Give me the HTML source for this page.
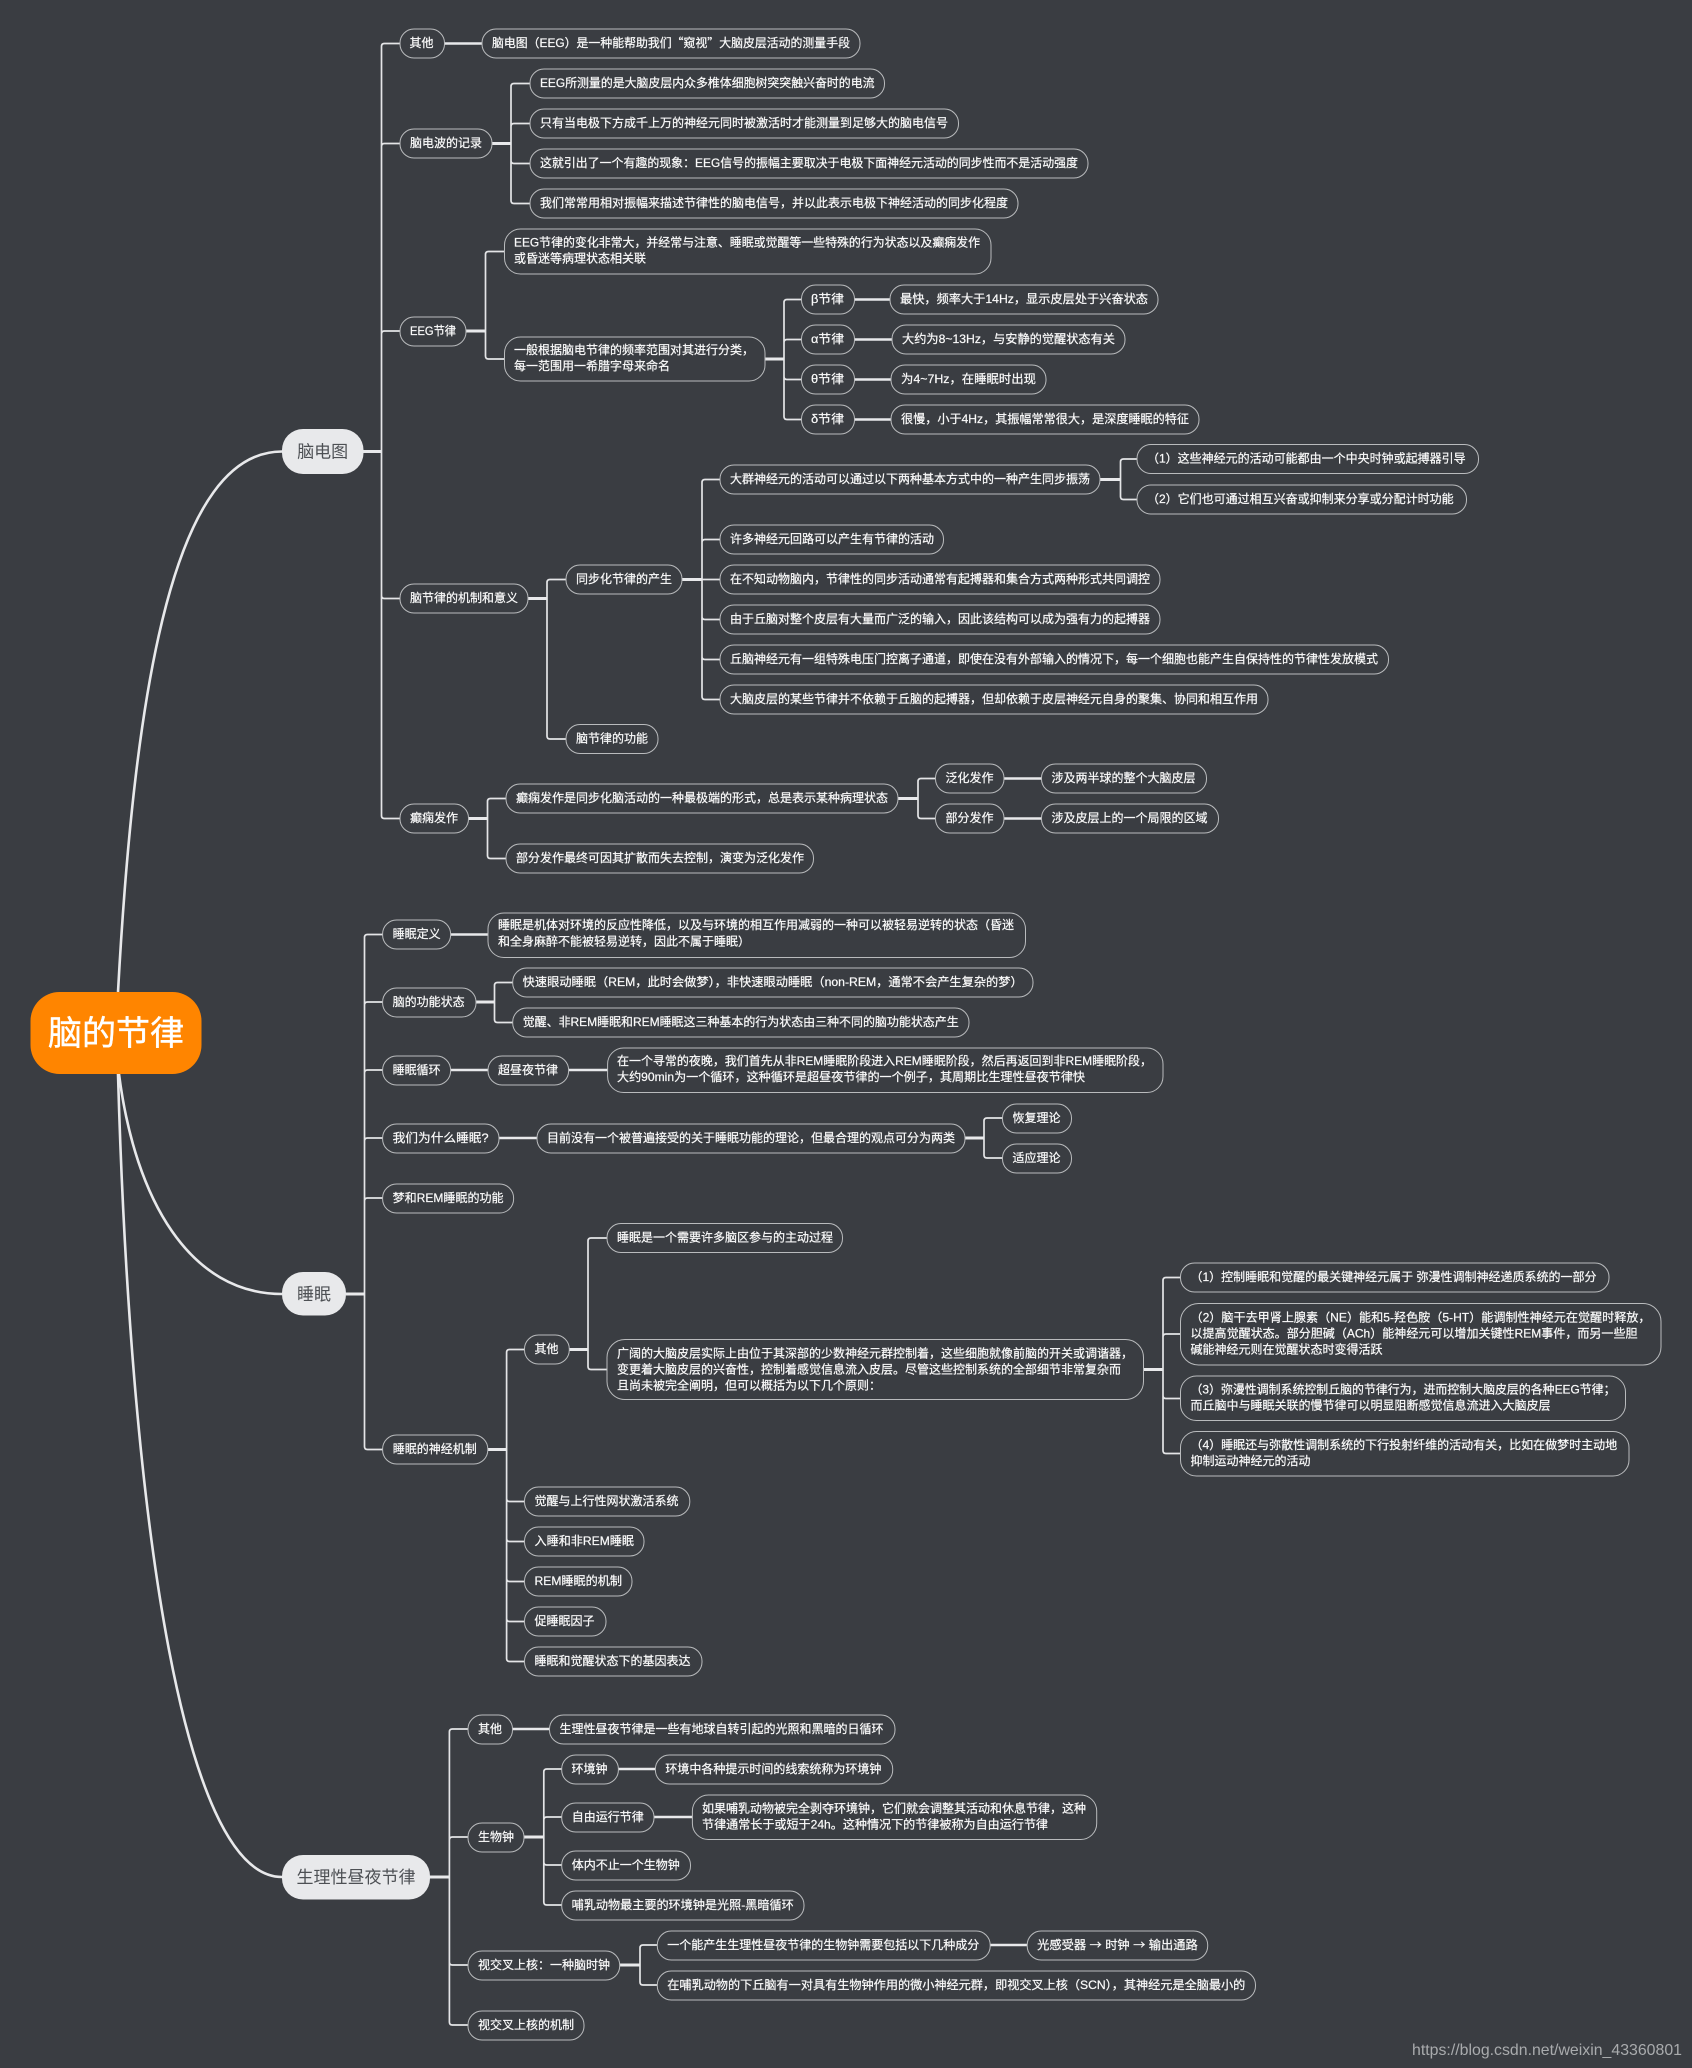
<!DOCTYPE html>
<html lang="zh"><head><meta charset="utf-8"><title>脑的节律</title>
<style>
html,body{margin:0;padding:0;background:#3a3d42}
svg{display:block}
text{font-family:"Liberation Sans","Noto Sans CJK SC",sans-serif;font-size:12px;fill:#fafafa}
.n text{stroke:#fafafa;stroke-width:.22}
.k{font-family:"Noto Sans CJK SC",sans-serif}
.n rect,rect.n{fill:#3a3d42;stroke:#b9bbbd;stroke-width:1}
.m{fill:#e8e9eb}
.mt{font-size:17px;fill:#4d5054;text-anchor:middle}
.c{fill:none;stroke:#e4e5e7;stroke-width:1.7}
.p{fill:none;stroke:#e8e9eb;stroke-width:3}
.r{fill:none;stroke:#e8e9eb;stroke-width:2.6}
</style></head><body>
<svg xmlns="http://www.w3.org/2000/svg" width="1692" height="2068" viewBox="0 0 1692 2068">
<rect width="1692" height="2068" fill="#3a3d42"/>

<path class="r" d="M118 992C135 680 175 451.5 282 451.5"/>
<path class="r" d="M119 1074C135 1200 190 1294 282 1294"/>
<path class="r" d="M118 1074C130 1500 180 1877 282 1877"/>

<path class="c" d="M381.5 451.5V46.5Q381.5 43.5 384.5 43.5H400M381.5 451.5V146.5Q381.5 143.5 384.5 143.5H400M381.5 451.5V334Q381.5 331 384.5 331H400M381.5 451.5V595.5Q381.5 598.5 384.5 598.5H400M381.5 451.5V815.5Q381.5 818.5 384.5 818.5H400"/>
<path class="c" d="M511 143.5V86.5Q511 83.5 514 83.5H530M511 143.5V126.5Q511 123.5 514 123.5H530M511 143.5V160.5Q511 163.5 514 163.5H530M511 143.5V200.5Q511 203.5 514 203.5H530"/>
<path class="c" d="M485.5 331V254.5Q485.5 251.5 488.5 251.5H504.5M485.5 331V356Q485.5 359 488.5 359H504.5"/>
<path class="c" d="M784 359V302.5Q784 299.5 787 299.5H801.5M784 359V342.5Q784 339.5 787 339.5H801.5M784 359V376.5Q784 379.5 787 379.5H801.5M784 359V416.5Q784 419.5 787 419.5H801.5"/>
<path class="c" d="M547 598.5V582.5Q547 579.5 550 579.5H566M547 598.5V736Q547 739 550 739H566"/>
<path class="c" d="M702 579.5V482.5Q702 479.5 705 479.5H720M702 579.5V542.5Q702 539.5 705 539.5H720M702 579.5H720M702 579.5V616.5Q702 619.5 705 619.5H720M702 579.5V656.5Q702 659.5 705 659.5H720M702 579.5V696.5Q702 699.5 705 699.5H720"/>
<path class="c" d="M1120.5 479.5V462Q1120.5 459 1123.5 459H1137M1120.5 479.5V496.5Q1120.5 499.5 1123.5 499.5H1137"/>
<path class="c" d="M487.5 818.5V801.5Q487.5 798.5 490.5 798.5H506M487.5 818.5V855.5Q487.5 858.5 490.5 858.5H506"/>
<path class="c" d="M918 798.5V781.5Q918 778.5 921 778.5H935.5M918 798.5V815.5Q918 818.5 921 818.5H935.5"/>
<path class="c" d="M364.5 1294V937.5Q364.5 934.5 367.5 934.5H382.6M364.5 1294V1005Q364.5 1002 367.5 1002H382.6M364.5 1294V1073Q364.5 1070 367.5 1070H382.6M364.5 1294V1141Q364.5 1138 367.5 1138H382.6M364.5 1294V1201Q364.5 1198 367.5 1198H382.6M364.5 1294V1446.5Q364.5 1449.5 367.5 1449.5H382.6"/>
<path class="c" d="M494.5 1002V985.5Q494.5 982.5 497.5 982.5H512.7M494.5 1002V1019.5Q494.5 1022.5 497.5 1022.5H512.7"/>
<path class="c" d="M984 1138V1121Q984 1118 987 1118H1002.5M984 1138V1155Q984 1158 987 1158H1002.5"/>
<path class="c" d="M506.6 1449.5V1352.5Q506.6 1349.5 509.6 1349.5H524.5M506.6 1449.5V1498.5Q506.6 1501.5 509.6 1501.5H524.5M506.6 1449.5V1538.5Q506.6 1541.5 509.6 1541.5H524.5M506.6 1449.5V1578.5Q506.6 1581.5 509.6 1581.5H524.5M506.6 1449.5V1618.5Q506.6 1621.5 509.6 1621.5H524.5M506.6 1449.5V1658.5Q506.6 1661.5 509.6 1661.5H524.5"/>
<path class="c" d="M588 1349.5V1241Q588 1238 591 1238H607M588 1349.5V1366.5Q588 1369.5 591 1369.5H607"/>
<path class="c" d="M1163 1369.5V1280.5Q1163 1277.5 1166 1277.5H1180.5M1163 1369.5V1337Q1163 1334 1166 1334H1180.5M1163 1369.5V1395.5Q1163 1398.5 1166 1398.5H1180.5M1163 1369.5V1450.5Q1163 1453.5 1166 1453.5H1180.5"/>
<path class="c" d="M449.4 1877V1732Q449.4 1729 452.4 1729H468M449.4 1877V1840Q449.4 1837 452.4 1837H468M449.4 1877V1962Q449.4 1965 452.4 1965H468M449.4 1877V2022Q449.4 2025 452.4 2025H468"/>
<path class="c" d="M543.8 1837V1772Q543.8 1769 546.8 1769H561.7M543.8 1837V1820Q543.8 1817 546.8 1817H561.7M543.8 1837V1862Q543.8 1865 546.8 1865H561.7M543.8 1837V1902Q543.8 1905 546.8 1905H561.7"/>
<path class="c" d="M640 1965V1948Q640 1945 643 1945H657.3M640 1965V1982Q640 1985 643 1985H657.3"/>

<path class="p" d="M363 451.5H381.5M492 143.5H511M466 331H485.5M765 359H784M528 598.5H547M682 579.5H702M1100 479.5H1120.5M468.5 818.5H487.5M898 798.5H918M346 1294H364.5M476 1002H494.5M965 1138H984M487.8 1449.5H506.6M569.3 1349.5H588M1143.5 1369.5H1163M430 1877H449.4M524 1837H543.8M619.7 1965H640"/>
<path class="p" style="stroke-width:2.4" d="M444.5 43.5H482M854.5 299.5H890M854.5 339.5H892M854.5 379.5H891M854.5 419.5H891M1004 778.5H1041.5M1004 818.5H1041.5M450.7 934.5H488M450.7 1070H488M568.6 1070H607.6M499 1138H537M512.5 1729H549.5M618.4 1769H655.4M654 1817H692.4M990.2 1945H1027.2"/>

<rect x="30.5" y="992" width="171" height="82" rx="29" fill="#ff8500"/>
<text x="116" y="1045" text-anchor="middle" style="font-size:34px;fill:#fff;stroke:#fff;stroke-width:.4">脑的节律</text>
<rect class="m" x="282" y="429" width="81.5" height="45" rx="21"/><text class="mt" x="322.7" y="457.5">脑电图</text>
<rect class="m" x="282" y="1272" width="64" height="43.5" rx="21"/><text class="mt" x="314" y="1300">睡眠</text>
<rect class="m" x="282" y="1855" width="148" height="44.5" rx="21"/><text class="mt" x="356" y="1883">生理性昼夜节律</text>

<g class="n">
<rect x="400" y="29" width="44.5" height="29" rx="14"/><text x="409.5" y="47">其他</text>
<rect x="482" y="29" width="378" height="29" rx="14"/><text x="492" y="47" textLength="358" lengthAdjust="spacingAndGlyphs">脑电图（EEG）是一种能帮助我们<tspan class="k">“窥视”</tspan>大脑皮层活动的测量手段</text>
<rect x="400" y="129" width="92" height="29" rx="14"/><text x="410" y="147">脑电波的记录</text>
<rect x="530" y="69" width="354.5" height="29" rx="14"/><text x="540" y="87" textLength="334.5" lengthAdjust="spacingAndGlyphs">EEG所测量的是大脑皮层内众多椎体细胞树突突触兴奋时的电流</text>
<rect x="530" y="109" width="428.5" height="29" rx="14"/><text x="540" y="127">只有当电极下方成千上万的神经元同时被激活时才能测量到足够大的脑电信号</text>
<rect x="530" y="149" width="558" height="29" rx="14"/><text x="540" y="167" textLength="538" lengthAdjust="spacingAndGlyphs">这就引出了一个有趣的现象：EEG信号的振幅主要取决于电极下面神经元活动的同步性而不是活动强度</text>
<rect x="530" y="189" width="488" height="29" rx="14"/><text x="540" y="207">我们常常用相对振幅来描述节律性的脑电信号，并以此表示电极下神经活动的同步化程度</text>
<rect x="400" y="317" width="66" height="29" rx="14"/><text x="410" y="335" textLength="46" lengthAdjust="spacingAndGlyphs">EEG节律</text>
<rect x="504.5" y="229" width="486.5" height="45" rx="16"/><text x="514" y="246.5" textLength="466" lengthAdjust="spacingAndGlyphs">EEG节律的变化非常大，并经常与注意、睡眠或觉醒等一些特殊的行为状态以及癫痫发作</text><text x="514" y="262.5">或昏迷等病理状态相关联</text>
<rect x="504.5" y="337" width="260.5" height="44" rx="16"/><text x="514" y="354">一般根据脑电节律的频率范围对其进行分类，</text><text x="514" y="370">每一范围用一希腊字母来命名</text>
<rect x="801.5" y="285" width="53" height="29" rx="14"/><text x="811" y="303" textLength="33" lengthAdjust="spacingAndGlyphs">β节律</text>
<rect x="890" y="285" width="268" height="29" rx="14"/><text x="900" y="303" textLength="248" lengthAdjust="spacingAndGlyphs">最快，频率大于14Hz，显示皮层处于兴奋状态</text>
<rect x="801.5" y="325" width="53" height="29" rx="14"/><text x="811" y="343" textLength="33" lengthAdjust="spacingAndGlyphs">α节律</text>
<rect x="892" y="325" width="233" height="29" rx="14"/><text x="902" y="343" textLength="213" lengthAdjust="spacingAndGlyphs">大约为8~13Hz，与安静的觉醒状态有关</text>
<rect x="801.5" y="365" width="53" height="29" rx="14"/><text x="811" y="383" textLength="33" lengthAdjust="spacingAndGlyphs">θ节律</text>
<rect x="891" y="365" width="155" height="29" rx="14"/><text x="901" y="383" textLength="135" lengthAdjust="spacingAndGlyphs">为4~7Hz，在睡眠时出现</text>
<rect x="801.5" y="405" width="53" height="29" rx="14"/><text x="811" y="423" textLength="33" lengthAdjust="spacingAndGlyphs">δ节律</text>
<rect x="891" y="405" width="308" height="29" rx="14"/><text x="901" y="423" textLength="288" lengthAdjust="spacingAndGlyphs">很慢，小于4Hz，其振幅常常很大，是深度睡眠的特征</text>
<rect x="400" y="584" width="128" height="29" rx="14"/><text x="410" y="602">脑节律的机制和意义</text>
<rect x="566" y="565" width="116" height="29" rx="14"/><text x="576" y="583">同步化节律的产生</text>
<rect x="720" y="465" width="380" height="29" rx="14"/><text x="730" y="483">大群神经元的活动可以通过以下两种基本方式中的一种产生同步振荡</text>
<rect x="1137" y="444.5" width="341.5" height="29" rx="14"/><text x="1147" y="462.5">（1）这些神经元的活动可能都由一个中央时钟或起搏器引导</text>
<rect x="1137" y="485" width="329.5" height="29" rx="14"/><text x="1147" y="503">（2）它们也可通过相互兴奋或抑制来分享或分配计时功能</text>
<rect x="720" y="525" width="223.5" height="29" rx="14"/><text x="730" y="543">许多神经元回路可以产生有节律的活动</text>
<rect x="720" y="565" width="440" height="29" rx="14"/><text x="730" y="583">在不知动物脑内，节律性的同步活动通常有起搏器和集合方式两种形式共同调控</text>
<rect x="720" y="605" width="440" height="29" rx="14"/><text x="730" y="623">由于丘脑对整个皮层有大量而广泛的输入，因此该结构可以成为强有力的起搏器</text>
<rect x="720" y="645" width="668.5" height="29" rx="14"/><text x="730" y="663">丘脑神经元有一组特殊电压门控离子通道，即使在没有外部输入的情况下，每一个细胞也能产生自保持性的节律性发放模式</text>
<rect x="720" y="685" width="548" height="29" rx="14"/><text x="730" y="703">大脑皮层的某些节律并不依赖于丘脑的起搏器，但却依赖于皮层神经元自身的聚集、协同和相互作用</text>
<rect x="566" y="724.5" width="92" height="29" rx="14"/><text x="576" y="742.5">脑节律的功能</text>
<rect x="400" y="804" width="68.5" height="29" rx="14"/><text x="410" y="822">癫痫发作</text>
<rect x="506" y="784" width="392" height="29" rx="14"/><text x="516" y="802">癫痫发作是同步化脑活动的一种最极端的形式，总是表示某种病理状态</text>
<rect x="935.5" y="764" width="68.5" height="29" rx="14"/><text x="945.5" y="782">泛化发作</text>
<rect x="1041.5" y="764" width="165" height="29" rx="14"/><text x="1051.5" y="782">涉及两半球的整个大脑皮层</text>
<rect x="935.5" y="804" width="68.5" height="29" rx="14"/><text x="945.5" y="822">部分发作</text>
<rect x="1041.5" y="804" width="177" height="29" rx="14"/><text x="1051.5" y="822">涉及皮层上的一个局限的区域</text>
<rect x="506" y="844" width="307.5" height="29" rx="14"/><text x="516" y="862">部分发作最终可因其扩散而失去控制，演变为泛化发作</text>

<rect x="382.6" y="920" width="68" height="29" rx="14"/><text x="392.6" y="938">睡眠定义</text>
<rect x="488" y="913" width="537.5" height="44.5" rx="16"/><text x="498" y="929">睡眠是机体对环境的反应性降低，以及与环境的相互作用减弱的一种可以被轻易逆转的状态（昏迷</text><text x="498" y="945.5">和全身麻醉不能被轻易逆转，因此不属于睡眠）</text>
<rect x="382.6" y="988" width="93.4" height="29" rx="14"/><text x="392.6" y="1006">脑的功能状态</text>
<rect x="512.7" y="968" width="520.3" height="29" rx="14"/><text x="522.7" y="986" textLength="500" lengthAdjust="spacingAndGlyphs">快速眼动睡眠（REM，此时会做梦），非快速眼动睡眠（non-REM，通常不会产生复杂的梦）</text>
<rect x="512.7" y="1008" width="456.3" height="29" rx="14"/><text x="522.7" y="1026" textLength="436" lengthAdjust="spacingAndGlyphs">觉醒、非REM睡眠和REM睡眠这三种基本的行为状态由三种不同的脑功能状态产生</text>
<rect x="382.6" y="1056" width="68" height="29" rx="14"/><text x="392.6" y="1074">睡眠循环</text>
<rect x="488" y="1056" width="80.6" height="29" rx="14"/><text x="498" y="1074">超昼夜节律</text>
<rect x="607.6" y="1048" width="555.4" height="44.5" rx="16"/><text x="617" y="1065" textLength="535" lengthAdjust="spacingAndGlyphs">在一个寻常的夜晚，我们首先从非REM睡眠阶段进入REM睡眠阶段，然后再返回到非REM睡眠阶段，</text><text x="617" y="1081" textLength="468" lengthAdjust="spacingAndGlyphs">大约90min为一个循环，这种循环是超昼夜节律的一个例子，其周期比生理性昼夜节律快</text>
<rect x="382.6" y="1124" width="116.4" height="29" rx="14"/><text x="392.6" y="1142" textLength="96" lengthAdjust="spacingAndGlyphs">我们为什么睡眠?</text>
<rect x="537" y="1124" width="428" height="29" rx="14"/><text x="547" y="1142">目前没有一个被普遍接受的关于睡眠功能的理论，但最合理的观点可分为两类</text>
<rect x="1002.5" y="1104" width="69" height="29" rx="14"/><text x="1012.5" y="1122">恢复理论</text>
<rect x="1002.5" y="1144" width="69" height="29" rx="14"/><text x="1012.5" y="1162">适应理论</text>
<rect x="382.6" y="1184" width="131" height="29" rx="14"/><text x="392.6" y="1202" textLength="111" lengthAdjust="spacingAndGlyphs">梦和REM睡眠的功能</text>
<rect x="607" y="1223.5" width="235.5" height="29" rx="14"/><text x="617" y="1241.5">睡眠是一个需要许多脑区参与的主动过程</text>
<rect x="524.5" y="1335" width="44.8" height="29" rx="14"/><text x="534.5" y="1353">其他</text>
<rect x="607" y="1339.5" width="536.5" height="60" rx="18"/><text x="617" y="1357.5">广阔的大脑皮层实际上由位于其深部的少数神经元群控制着，这些细胞就像前脑的开关或调谐器，</text><text x="617" y="1373.5">变更着大脑皮层的兴奋性，控制着感觉信息流入皮层。尽管这些控制系统的全部细节非常复杂而</text><text x="617" y="1389.5">且尚未被完全阐明，但可以概括为以下几个原则：</text>
<rect x="1180.5" y="1263" width="428.5" height="29" rx="14"/><text x="1190.5" y="1281">（1）控制睡眠和觉醒的最关键神经元属于 弥漫性调制神经递质系统的一部分</text>
<rect x="1180.5" y="1303.5" width="480.5" height="61.5" rx="18"/><text x="1190.5" y="1321.5" textLength="460" lengthAdjust="spacingAndGlyphs">（2）脑干去甲肾上腺素（NE）能和5-羟色胺（5-HT）能调制性神经元在觉醒时释放，</text><text x="1190.5" y="1337.5" textLength="447" lengthAdjust="spacingAndGlyphs">以提高觉醒状态。部分胆碱（ACh）能神经元可以增加关键性REM事件，而另一些胆</text><text x="1190.5" y="1353.5">碱能神经元则在觉醒状态时变得活跃</text>
<rect x="1180.5" y="1376" width="445" height="44.5" rx="16"/><text x="1190.5" y="1393.5" textLength="425" lengthAdjust="spacingAndGlyphs">（3）弥漫性调制系统控制丘脑的节律行为，进而控制大脑皮层的各种EEG节律；</text><text x="1190.5" y="1409.5">而丘脑中与睡眠关联的慢节律可以明显阻断感觉信息流进入大脑皮层</text>
<rect x="1180.5" y="1431.5" width="448.5" height="44.5" rx="16"/><text x="1190.5" y="1449">（4）睡眠还与弥散性调制系统的下行投射纤维的活动有关，比如在做梦时主动地</text><text x="1190.5" y="1465">抑制运动神经元的活动</text>
<rect x="382.6" y="1435" width="105.2" height="29" rx="14"/><text x="392.8" y="1453">睡眠的神经机制</text>
<rect x="524.5" y="1487" width="165.3" height="29" rx="14"/><text x="534.5" y="1505">觉醒与上行性网状激活系统</text>
<rect x="524.5" y="1527" width="119.5" height="29" rx="14"/><text x="534.5" y="1545" textLength="99.5" lengthAdjust="spacingAndGlyphs">入睡和非REM睡眠</text>
<rect x="524.5" y="1567" width="107.5" height="29" rx="14"/><text x="534.5" y="1585" textLength="87.5" lengthAdjust="spacingAndGlyphs">REM睡眠的机制</text>
<rect x="524.5" y="1607" width="81.5" height="29" rx="14"/><text x="534.5" y="1625">促睡眠因子</text>
<rect x="524.5" y="1647" width="177.5" height="29" rx="14"/><text x="534.5" y="1665">睡眠和觉醒状态下的基因表达</text>

<rect x="468" y="1715" width="44.5" height="29" rx="14"/><text x="478" y="1733">其他</text>
<rect x="549.5" y="1715" width="345.5" height="29" rx="14"/><text x="559.5" y="1733">生理性昼夜节律是一些有地球自转引起的光照和黑暗的日循环</text>
<rect x="468" y="1823" width="56" height="29" rx="14"/><text x="478" y="1841">生物钟</text>
<rect x="561.7" y="1755" width="56.7" height="29" rx="14"/><text x="571.5" y="1773">环境钟</text>
<rect x="655.4" y="1755" width="237.3" height="29" rx="14"/><text x="665.4" y="1773">环境中各种提示时间的线索统称为环境钟</text>
<rect x="561.7" y="1803" width="92.3" height="29" rx="14"/><text x="571.7" y="1821">自由运行节律</text>
<rect x="692.4" y="1795" width="404.3" height="44.5" rx="16"/><text x="702" y="1812.5">如果哺乳动物被完全剥夺环境钟，它们就会调整其活动和休息节律，这种</text><text x="702" y="1828.5" textLength="346" lengthAdjust="spacingAndGlyphs">节律通常长于或短于24h。这种情况下的节律被称为自由运行节律</text>
<rect x="561.7" y="1851" width="128.8" height="29" rx="14"/><text x="571.7" y="1869">体内不止一个生物钟</text>
<rect x="561.7" y="1891" width="242.3" height="29" rx="14"/><text x="571.7" y="1909" textLength="222" lengthAdjust="spacingAndGlyphs">哺乳动物最主要的环境钟是光照-黑暗循环</text>
<rect x="468" y="1951" width="151.7" height="29" rx="14"/><text x="478" y="1969">视交叉上核：一种脑时钟</text>
<rect x="657.3" y="1931" width="332.9" height="29" rx="14"/><text x="667.3" y="1949">一个能产生生理性昼夜节律的生物钟需要包括以下几种成分</text>
<rect x="1027.2" y="1931" width="180.5" height="29" rx="14"/><text x="1037.2" y="1949" textLength="160.5" lengthAdjust="spacingAndGlyphs">光感受器 <tspan class="k">→</tspan> 时钟 <tspan class="k">→</tspan> 输出通路</text>
<rect x="657.3" y="1971" width="598.2" height="29" rx="14"/><text x="667.3" y="1989" textLength="578" lengthAdjust="spacingAndGlyphs">在哺乳动物的下丘脑有一对具有生物钟作用的微小神经元群，即视交叉上核（SCN），其神经元是全脑最小的</text>
<rect x="468" y="2011" width="116" height="29" rx="14"/><text x="478" y="2029">视交叉上核的机制</text>
</g>

<text x="1412" y="2055" textLength="270" lengthAdjust="spacingAndGlyphs" style="font-size:16px;fill:#a9abad">https://blog.csdn.net/weixin_43360801</text>
</svg>
</body></html>
